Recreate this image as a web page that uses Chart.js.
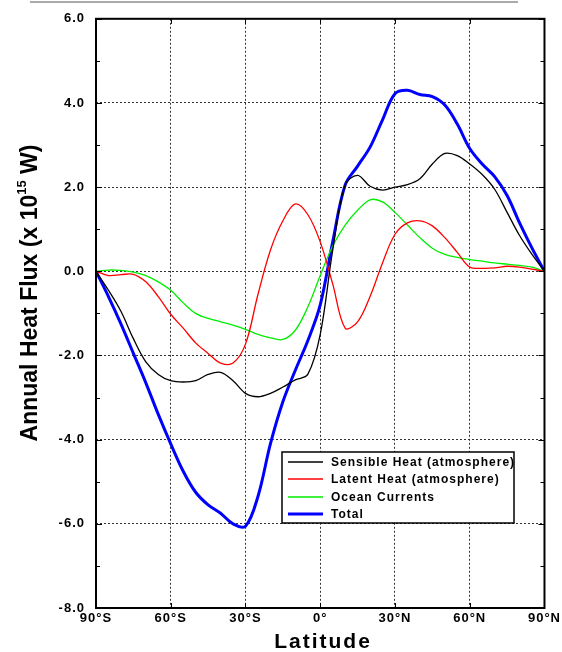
<!DOCTYPE html>
<html>
<head>
<meta charset="utf-8">
<script src="https://cdn.jsdelivr.net/npm/chart.js@4/dist/chart.umd.min.js"></script>
<style>
  html, body { margin: 0; padding: 0; background: #fff; }
  #wrap { width: 562px; height: 652px; }
</style>
</head>
<body>
<div id="wrap"><canvas id="chart" width="562" height="652"></canvas></div>
<script>
// latitude, degrees (negative = south)
const lats = [-90, -85, -80, -75, -70, -65, -60, -55, -50, -45, -40, -35, -30, -25, -20, -15, -10, -5,
  0, 5, 10, 15, 20, 25, 30, 35, 40, 45, 50, 55, 60, 65, 70, 75, 80, 85, 90];

// annual heat flux, x 10^15 W
const sensible = [0, -0.45, -0.95, -1.6, -2.15, -2.45, -2.6, -2.63, -2.6, -2.45, -2.4, -2.6, -2.9, -2.98, -2.9, -2.75, -2.58, -2.45,
  -1.5, 0.5, 2.05, 2.28, 2.02, 1.93, 2.0, 2.06, 2.2, 2.55, 2.8, 2.75, 2.55, 2.3, 1.95, 1.4, 0.85, 0.4, 0];
const latent = [0, -0.1, -0.08, -0.07, -0.25, -0.6, -1.02, -1.35, -1.7, -1.95, -2.18, -2.18, -1.73, -0.55, 0.5, 1.2, 1.6, 1.35,
  0.7, -0.3, -1.35, -1.2, -0.6, 0.2, 0.88, 1.15, 1.2, 1.08, 0.8, 0.45, 0.1, 0.07, 0.08, 0.12, 0.1, 0.05, 0];
const ocean = [0, 0.03, 0.02, -0.02, -0.1, -0.25, -0.45, -0.75, -1.0, -1.12, -1.2, -1.28, -1.38, -1.5, -1.58, -1.62, -1.4, -0.85,
  -0.1, 0.6, 1.1, 1.45, 1.7, 1.65, 1.4, 1.1, 0.8, 0.55, 0.4, 0.33, 0.28, 0.24, 0.2, 0.17, 0.14, 0.1, 0];
const total = [0, -0.6, -1.25, -1.95, -2.65, -3.4, -4.1, -4.75, -5.25, -5.55, -5.75, -6.0, -6.06, -5.35, -4.1, -3.1, -2.35, -1.65,
  -0.8, 0.7, 2.05, 2.5, 2.95, 3.6, 4.22, 4.3, 4.2, 4.15, 3.95, 3.5, 2.92, 2.55, 2.25, 1.8, 1.15, 0.55, 0];

const xTickLabels = {'-90': '90°S', '-60': '60°S', '-30': '30°S', '0': '0°', '30': '30°N', '60': '60°N', '90': '90°N'};

const pts = arr => arr.map((v, i) => ({x: lats[i], y: v}));

function line(label, arr, color, width) {
  return {
    label: label,
    data: pts(arr),
    borderColor: color,
    backgroundColor: color,
    borderWidth: width,
    pointRadius: 0,
    tension: 0.35,
    fill: false
  };
}

const font = '"Liberation Sans", Arial, sans-serif';

const extras = {
  id: 'extras',
  beforeDraw(chart) {
    chart.ctx.letterSpacing = '1px';
  },
  afterDraw(chart) {
    const ctx = chart.ctx;
    const a = chart.chartArea;
    const xs = chart.scales.x, ys = chart.scales.y;
    ctx.save();
    ctx.letterSpacing = '0px';

    // gray rule at the very top
    ctx.strokeStyle = '#aaaaaa';
    ctx.lineWidth = 2;
    ctx.beginPath();
    ctx.moveTo(30, 2); ctx.lineTo(518, 2);
    ctx.stroke();

    // frame
    ctx.strokeStyle = '#000';
    ctx.lineWidth = 2;
    ctx.strokeRect(a.left, a.top, a.right - a.left, a.bottom - a.top);

    // inward ticks
    ctx.lineWidth = 1;
    ctx.beginPath();
    for (let v = -8; v <= 6; v += 1) {
      const y = Math.round(ys.getPixelForValue(v)) + 0.5;
      const len = v % 2 === 0 ? 6 : 4;
      ctx.moveTo(a.left, y); ctx.lineTo(a.left + len, y);
      ctx.moveTo(a.right, y); ctx.lineTo(a.right - len, y);
    }
    for (let v = -90; v <= 90; v += 30) {
      const x = Math.round(xs.getPixelForValue(v)) + 0.5;
      ctx.moveTo(x, a.bottom); ctx.lineTo(x, a.bottom - 5);
      ctx.moveTo(x, a.top); ctx.lineTo(x, a.top + 5);
    }
    ctx.stroke();

    // y-axis title with superscript exponent
    ctx.fillStyle = '#000';
    ctx.translate(37, 293);
    ctx.rotate(-Math.PI / 2);
    const big = 'bold 23px ' + font;
    const small = 'bold 13px ' + font;
    const parts = [['Annual Heat Flux (x 10', big, 0], ['15', small, -11], [' W)', big, 0]];
    let w = 0;
    parts.forEach(p => { ctx.font = p[1]; w += ctx.measureText(p[0]).width; });
    let cx = -w / 2;
    ctx.textBaseline = 'alphabetic';
    ctx.textAlign = 'left';
    parts.forEach(p => {
      ctx.font = p[1];
      ctx.fillText(p[0], cx, p[2]);
      cx += ctx.measureText(p[0]).width;
    });
    ctx.setTransform(1, 0, 0, 1, 0, 0);

    // x-axis title
    ctx.font = 'bold 21px ' + font;
    ctx.letterSpacing = '2px';
    ctx.textAlign = 'center';
    ctx.fillText('Latitude', 323, 648);

    // legend box
    const bx = 282, by = 452, bw = 232, bh = 71;
    ctx.letterSpacing = '1px';
    ctx.fillStyle = '#fff';
    ctx.fillRect(bx, by, bw, bh);
    ctx.strokeStyle = '#000';
    ctx.lineWidth = 1.5;
    ctx.strokeRect(bx, by, bw, bh);
    ctx.font = 'bold 12px ' + font;
    ctx.textAlign = 'left';
    ctx.textBaseline = 'middle';
    const rows = [462, 479, 497, 514];
    chart.data.datasets.forEach((ds, i) => {
      ctx.strokeStyle = ds.borderColor;
      ctx.lineWidth = ds.borderWidth;
      ctx.beginPath();
      ctx.moveTo(288, rows[i]); ctx.lineTo(323, rows[i]);
      ctx.stroke();
      ctx.fillStyle = '#000';
      ctx.fillText(ds.label, 331, rows[i] + 1);
    });
    ctx.restore();
    ctx.letterSpacing = '0px';
  }
};

new Chart(document.getElementById('chart'), {
  type: 'line',
  data: {
    datasets: [
      line('Sensible Heat (atmosphere)', sensible, '#000000', 1.3),
      line('Latent Heat (atmosphere)', latent, '#ff0000', 1.3),
      line('Ocean Currents', ocean, '#00ee00', 1.3),
      line('Total', total, '#0000ff', 3)
    ]
  },
  options: {
    responsive: false,
    devicePixelRatio: 1,
    animation: false,
    layout: {padding: {left: 0, right: 14, top: 16, bottom: 0}},
    plugins: {legend: {display: false}, tooltip: {enabled: false}},
    scales: {
      x: {
        type: 'linear',
        min: -90, max: 90,
        afterFit: s => { s.height = 44; },
        afterBuildTicks: s => { s.ticks = [-90, -60, -30, 0, 30, 60, 90].map(v => ({value: v})); },
        ticks: {
          callback: v => xTickLabels[String(v)],
          color: '#000',
          font: {family: font, size: 13, weight: 'bold'},
          padding: 3,
          maxRotation: 0,
          autoSkip: false
        },
        grid: {color: '#333', lineWidth: 1, drawTicks: false},
        border: {display: false, dash: [2, 2]}
      },
      y: {
        type: 'linear',
        min: -8, max: 6,
        afterFit: s => { s.width = 96; },
        ticks: {
          stepSize: 2,
          callback: v => v.toFixed(1),
          color: '#000',
          font: {family: font, size: 13, weight: 'bold'},
          padding: 11
        },
        grid: {color: '#333', lineWidth: 1, drawTicks: false},
        border: {display: false, dash: [2, 2]}
      }
    }
  },
  plugins: [extras]
});
</script>
</body>
</html>
